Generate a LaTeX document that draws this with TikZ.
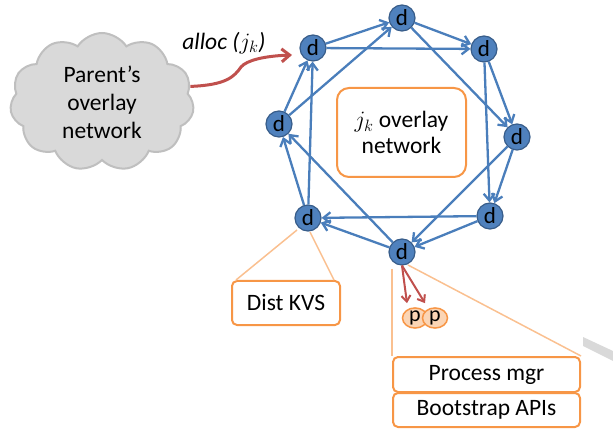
\documentclass[tikz,border=0pt]{standalone}
\usepackage{fix-cm}
\usepackage{fontspec}
\setmainfont{Carlito}
\usetikzlibrary{arrows.meta,shapes.symbols,shapes.geometric}

\definecolor{dblue}{HTML}{4F81BD}
\definecolor{dblueline}{HTML}{385D8A}
\definecolor{edgeblue}{HTML}{4A7EBB}
\definecolor{allocred}{HTML}{C0504D}
\definecolor{boxorange}{HTML}{F79646}
\definecolor{calloutorange}{HTML}{FAC090}
\definecolor{pfill}{HTML}{FBD5B5}
\definecolor{cloudfill}{HTML}{D9D9D9}
\definecolor{cloudline}{HTML}{BFBFBF}

\tikzset{
  daemon/.style={circle, fill=dblue, draw=dblueline, line width=1.2pt,
    minimum size=26pt, inner sep=0pt, font=\fontsize{23}{23}\selectfont},
  proc/.style={ellipse, fill=pfill, draw=boxorange, line width=1.5pt,
    minimum width=25pt, minimum height=18pt, inner sep=0pt,
    font=\fontsize{22}{22}\selectfont},
  link/.style={draw=edgeblue, line width=2.3pt,
    -{Straight Barb[length=7pt,width=11pt]}},
  spawn/.style={draw=allocred, line width=2pt,
    -{Straight Barb[length=6pt,width=9pt]}},
  callout/.style={draw=calloutorange, line width=1.5pt},
  infobox/.style={draw=boxorange, line width=2pt, fill=white,
    rounded corners=5pt, inner sep=0pt, align=center,
    font=\fontsize{23.5}{26}\selectfont},
}

\begin{document}
\begin{tikzpicture}[x=1pt,y=-1pt]
\useasboundingbox (0,0) rectangle (613,430);

% parent network cloud
\node[cloud, cloud puffs=11, cloud puff arc=115, aspect=1.35,
  fill=cloudfill, draw=cloudline, line width=2pt,
  minimum width=184pt, minimum height=138pt, align=center,
  font=\fontsize{23.5}{28}\selectfont] (parent) at (102,102)
  {Parent’s\\overlay\\network};

% daemons of the child overlay
\node[daemon] (ul) at (313,48)  {d};
\node[daemon] (t)  at (402,18)  {d};
\node[daemon] (ur) at (484,49)  {d};
\node[daemon] (r)  at (517,137) {d};
\node[daemon] (lr) at (490,216) {d};
\node[daemon] (b)  at (402,252) {d};
\node[daemon] (ll) at (308,218) {d};
\node[daemon] (l)  at (279,124) {d};

% centre label
\node[infobox, rounded corners=12pt, minimum width=129pt, minimum height=89pt]
  (overlay) at (401.5,132.5) {$j_k$ overlay\\network};

% service boxes
\node[infobox, minimum width=108pt, minimum height=44pt] (kvs) at (286,303) {Dist KVS};
\node[infobox, minimum width=187pt, minimum height=35pt] (pm) at (486.5,374.5) {Process mgr};
\node[infobox, minimum width=187pt, minimum height=34pt] (bs) at (486.5,410) {Bootstrap APIs};

% managed processes
\node[proc] (p1) at (415,318) {p};
\node[proc] (p2) at (435,318) {p};

% overlay links: each daemon to its next two neighbours
\draw[link] (ul) -- (t);
\draw[link] (ul) -- (ur);
\draw[link] (t)  -- (ur);
\draw[link] (t)  -- (r);
\draw[link] (ur) -- (r);
\draw[link] (ur) -- (lr);
\draw[link] (r)  -- (lr);
\draw[link] (r)  -- (b);
\draw[link] (lr) -- (b);
\draw[link] (lr) -- (ll);
\draw[link] (b)  -- (ll);
\draw[link] (b)  -- (l);
\draw[link] (ll) -- (l);
\draw[link] (ll) -- (ul);
\draw[link] (l)  -- (ul);
\draw[link] (l)  -- (t);

% allocation from the parent
\draw[draw=allocred, line width=3pt, -{Straight Barb[length=8pt,width=13pt]}]
  (parent.10) .. controls (226,85) and (234,77) .. (241,67)
  .. controls (247,60) and (265,56) .. ([shift={(-21pt,-7pt)}]ul.center);
\node[font=\fontsize{23.5}{28}\selectfont\itshape] (alloc) at (224,43) {alloc ($j_k$)};

% callouts
\coordinate (llfoot) at ([shift={(-11pt,-12pt)}]ll.center);
\coordinate (llfoot2) at ([shift={(2pt,-14pt)}]ll.center);
\draw[callout] (llfoot) -- ([xshift=5pt]kvs.north west);
\draw[callout] (llfoot2) -- ([xshift=-7pt]kvs.north east);
\coordinate (bfoot) at ([yshift=-3pt]b.south);
\draw[callout] (bfoot -| pm.west) -- (pm.north west);
\draw[callout] ([shift={(6pt,-13pt)}]b.center) -- (pm.north east);

% process spawning
\draw[spawn] (b.south) -- ([shift={(-8pt,4pt)}]p1.north);
\draw[spawn] (b.south) -- ([shift={(-10pt,4pt)}]p2.north);

% grey stroke at the right edge
\fill[cloudfill] (583,337) -- (613,351) -- (613,361) -- (583,346) -- cycle;
\end{tikzpicture}
\end{document}
